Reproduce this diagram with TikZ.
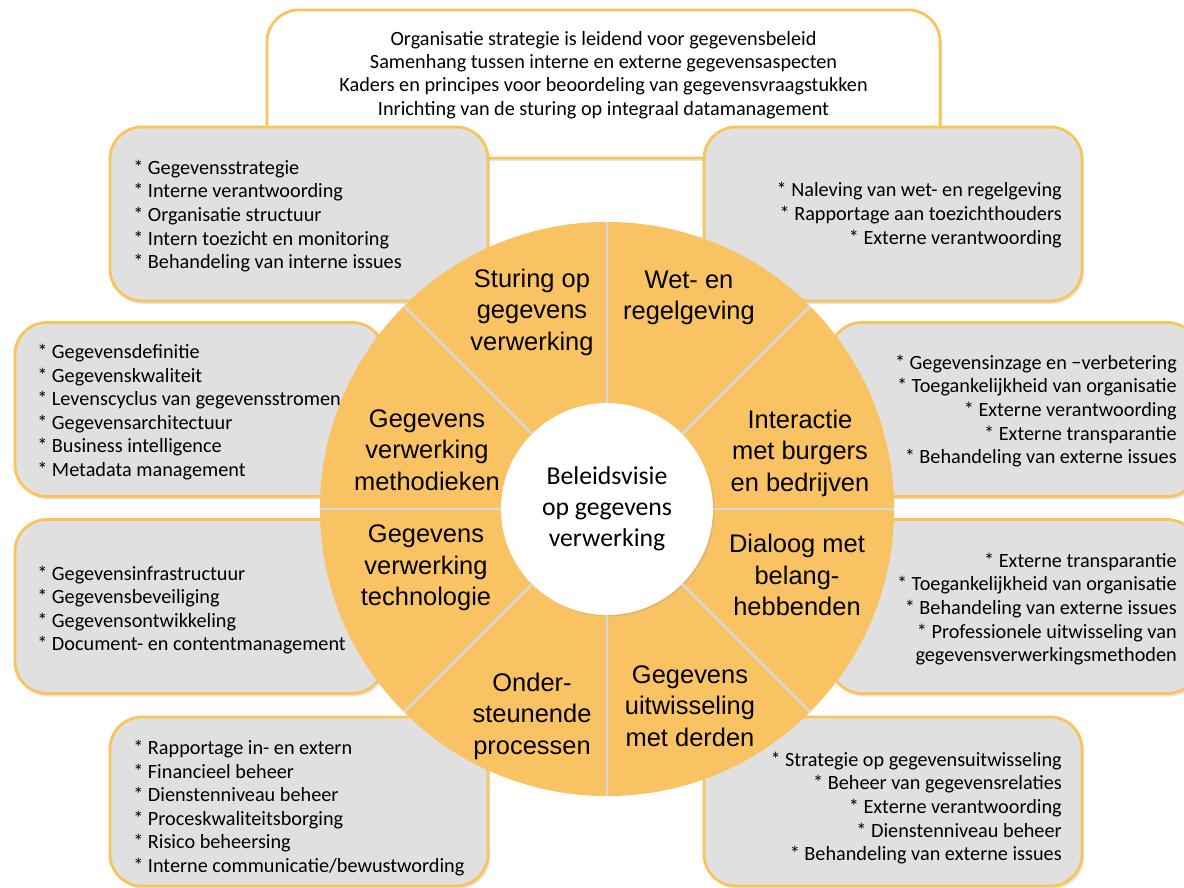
\documentclass[tikz,border=0pt]{standalone}
\usepackage{fontspec}
\setmainfont{Carlito}
\newfontfamily\wheelfont{Liberation Sans}
\usetikzlibrary{positioning,shadows}

\definecolor{wheelorange}{RGB}{249,195,99}
\definecolor{rimorange}{RGB}{250,196,92}
\definecolor{boxgray}{RGB}{224,224,224}
\definecolor{spokegray}{RGB}{216,216,216}

\begin{document}
\begin{tikzpicture}[
        x=0.025cm, y=-0.025cm,
        panel/.style={draw=rimorange, line width=2pt, rounded corners=0.8cm, fill=boxgray, inner sep=0pt,
            drop shadow={shadow xshift=1.5pt, shadow yshift=-2pt, opacity=0.22}},
        widebox/.style={panel, minimum width=9.45cm, minimum height=4.35cm},
        sidebox/.style={panel, minimum width=9.225cm, minimum height=4.35cm},
        listtext/.style={font=\fontsize{14.4}{16.8}\selectfont, inner sep=0pt},
        segment/.style={font=\wheelfont\fontsize{18.1}{22.4}\selectfont, align=center, inner sep=0pt},
        spoke/.style={draw=spokegray, line width=2pt}
    ]
        \useasboundingbox (0,0) rectangle (1184,888);
        \clip (0,0) rectangle (1184,888);

        % Top
        \node[panel, fill=white, drop shadow={opacity=0}, minimum width=16.825cm, minimum height=3.7cm] (vision) at (603.5,84) {};
        \node[listtext, align=center, font=\fontsize{14.4}{16.6}\selectfont] (visiontext) at (603.5,75) {Organisatie strategie is leidend voor gegevensbeleid\\Samenhang tussen interne en externe gegevensaspecten\\Kaders en principes voor beoordeling van gegevensvraagstukken\\Inrichting van de sturing op integraal datamanagement};

        % Boxes
        \node[widebox] (sturing) at (299,214) {};
        \node[widebox] (wet) at (893,214) {};
        \node[sidebox] (methodiek) at (199.5,409.5) {};
        \node[sidebox] (interactie) at (1014.5,409.5) {};
        \node[sidebox] (technologie) at (199.5,606.5) {};
        \node[sidebox] (dialoog) at (1014.5,606.5) {};
        \node[widebox, minimum height=4.225cm] (processen) at (299,801.5) {};
        \node[widebox, minimum height=4.225cm] (derden) at (893,801.5) {};

        % Wheel
        \node[circle, fill=wheelorange, minimum size=14.35cm, inner sep=0pt] (wheel) at (607,509) {};
        \node[circle, fill=white, minimum size=5.3cm, inner sep=0pt, align=center,
            drop shadow={shadow xshift=1pt, shadow yshift=-1pt, opacity=0.2},
            font=\fontsize{18.3}{22}\selectfont] (hub) at (607,509) {Beleidsvisie\\op gegevens\\verwerking};
        \foreach \a in {0,45,...,315}
            \draw[spoke] (hub.\a) -- (wheel.\a);

        \node[segment] (s1) at (532,312) {Sturing op\\gegevens\\verwerking};
        \node[segment] (s2) at (689,298) {Wet- en\\regelgeving};
        \node[segment] (s3) at (800,453) {Interactie\\met burgers\\en bedrijven};
        \node[segment] (s4) at (797,575) {Dialoog met\\belang-\\hebbenden};
        \node[segment] (s5) at (690,706) {Gegevens\\uitwisseling\\met derden};
        \node[segment] (s6) at (532,716) {Onder-\\steunende\\processen};
        \node[segment] (s7) at (426,568) {Gegevens\\verwerking\\technologie};
        \node[segment] (s8) at (427,450) {Gegevens\\verwerking\\methodieken};

        % Lists
        \node[listtext, align=left, anchor=west] (l1) at (133,216) {* Gegevensstrategie\\* Interne verantwoording\\* Organisatie structuur\\* Intern toezicht en monitoring\\* Behandeling van interne issues};
        \node[listtext, align=right, anchor=east] (l2) at (1062,215) {* Naleving van wet- en regelgeving\\* Rapportage aan toezichthouders\\* Externe verantwoording};
        \node[listtext, align=left, anchor=west] (l3) at (37,412) {* Gegevensdefinitie\\* Gegevenskwaliteit\\* Levenscyclus van gegevensstromen\\* Gegevensarchitectuur\\* Business intelligence\\* Metadata management};
        \node[listtext, align=right, anchor=east] (l4) at (1177,411) {* Gegevensinzage en −verbetering\\* Toegankelijkheid van organisatie\\* Externe verantwoording\\* Externe transparantie\\* Behandeling van externe issues};
        \node[listtext, align=left, anchor=west] (l5) at (37,610) {* Gegevensinfrastructuur\\* Gegevensbeveiliging\\* Gegevensontwikkeling\\* Document- en contentmanagement};
        \node[listtext, align=right, anchor=east] (l6) at (1177,609) {* Externe transparantie\\* Toegankelijkheid van organisatie\\* Behandeling van externe issues\\* Professionele uitwisseling van\\gegevensverwerkingsmethoden};
        \node[listtext, align=left, anchor=west] (l7) at (133,808) {* Rapportage in- en extern\\* Financieel beheer\\* Dienstenniveau beheer\\* Proceskwaliteitsborging\\* Risico beheersing\\* Interne communicatie/bewustwording};
        \node[listtext, align=right, anchor=east] (l8) at (1062,808) {* Strategie op gegevensuitwisseling\\* Beheer van gegevensrelaties\\* Externe verantwoording\\* Dienstenniveau beheer\\* Behandeling van externe issues};
    \end{tikzpicture}
\end{document}
